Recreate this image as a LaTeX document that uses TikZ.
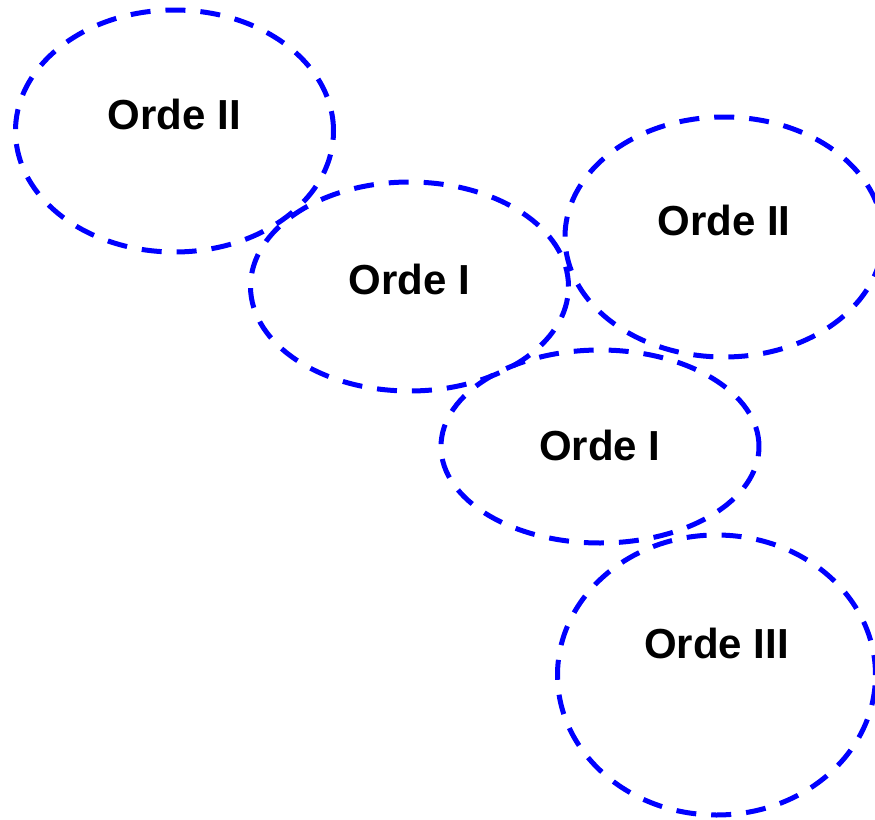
\documentclass[tikz,border=0pt]{standalone}
\usepackage{fontspec}
\setmainfont{Liberation Sans}
\usetikzlibrary{shapes.geometric}

\tikzset{
  orbit/.style={ellipse, draw=blue, line width=2.5pt, dash pattern=on 10pt off 7.5pt, inner sep=0pt},
  ordtext/.style={font=\fontsize{21}{25}\selectfont\bfseries, inner sep=0pt}
}

\begin{document}
\begin{tikzpicture}[x=0.5pt,y=-0.5pt]
			\useasboundingbox (0,0) rectangle (875,820);
			\node[orbit, minimum width=159pt, minimum height=121pt] (e1) at (174.5,131) {};
			\node[ordtext] (t1) at (174.5,114) {Orde II};
			
			\node[orbit, minimum width=159pt, minimum height=104.5pt] (e2) at (409.5,286.5) {};
			\node[ordtext] (t2) at (409.5,279) {Orde I};
			
			\node[orbit, minimum width=159pt, minimum height=120pt] (e3) at (724,237) {};
			\node[ordtext] (t3) at (724,220) {Orde II};
			
			\node[orbit, minimum width=159pt, minimum height=96.5pt] (e4) at (600,446.5) {};
			\node[ordtext] (t4) at (600,445) {Orde I};
			
			\node[orbit, minimum width=159pt, minimum height=140pt] (e5) at (716.5,675) {};
			\node[ordtext] (t5) at (716.5,643) {Orde III};
			\end{tikzpicture}
\end{document}
